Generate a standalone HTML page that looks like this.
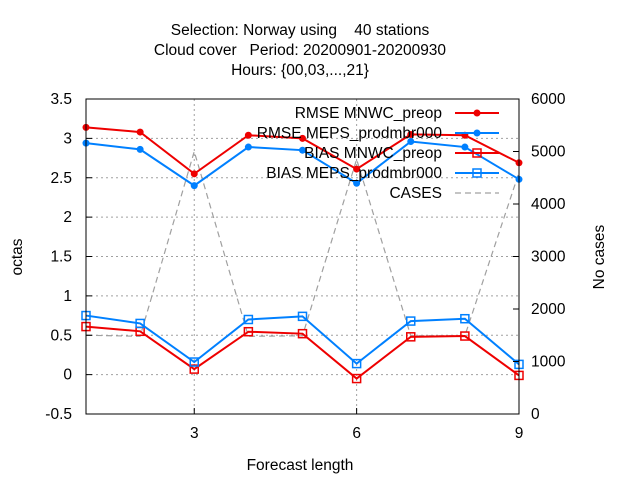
<!DOCTYPE html>
<html><head><meta charset="utf-8"><style>
body{margin:0;background:#fff}
svg text{font-family:"Liberation Sans",sans-serif;font-size:15.5px;fill:#000}
</style></head><body>
<svg id="chart" width="640" height="480" xmlns="http://www.w3.org/2000/svg">
<rect width="640" height="480" fill="#fff"/>
<g id="grid"></g><g id="series"></g><g id="axes"></g>
<text x="300" y="35" text-anchor="middle" xml:space="preserve">Selection: Norway using    40 stations</text>
<text x="300" y="55" text-anchor="middle" xml:space="preserve">Cloud cover   Period: 20200901-20200930</text>
<text x="300" y="75" text-anchor="middle">Hours: {00,03,...,21}</text>
<text x="300" y="470" text-anchor="middle">Forecast length</text>
<text transform="translate(22,257) rotate(-90)" text-anchor="middle">octas</text>
<text transform="translate(604,257) rotate(-90)" text-anchor="middle">No cases</text>
<g id="legend"></g>
</svg>
<script>
const leads=[1,2,3,4,5,6,7,8,9];
const rmseMnwc=[3.14,3.08,2.55,3.04,3.00,2.61,3.05,3.04,2.69];
const rmseMeps=[2.94,2.86,2.40,2.89,2.85,2.43,2.96,2.89,2.48];
const biasMnwc=[0.61,0.55,0.07,0.545,0.52,-0.05,0.48,0.49,-0.01];
const biasMeps=[0.75,0.65,0.16,0.70,0.74,0.14,0.68,0.71,0.13];
const cases=[1500,1480,5000,1480,1490,4850,1490,1490,4600];
const yTicks=[-0.5,0,0.5,1,1.5,2,2.5,3,3.5];
const y2Ticks=[0,1000,2000,3000,4000,5000,6000];
const xTicks=[3,6,9];
const L=86,R=519,T=99,B=414,NS="http://www.w3.org/2000/svg";
const xs=v=>L+(v-1)/8*(R-L);
const ys=v=>B-(v+0.5)/4*(B-T);
const y2s=v=>B-v/6000*(B-T);
function mk(tag,attrs,parent){const e=document.createElementNS(NS,tag);for(const k in attrs)e.setAttribute(k,attrs[k]);document.getElementById(parent).appendChild(e);return e;}
yTicks.forEach(t=>{const y=ys(t);
 if(t>-0.5&&t<3.5){const g=mk('line',{x1:L,x2:R,y1:y,y2:y,stroke:'#a0a0a0','stroke-dasharray':'2,3'},'grid');}
 mk('line',{x1:L,x2:L+6,y1:y,y2:y,stroke:'#000'},'axes');
 const tx=mk('text',{x:L-14,y:y+5,'text-anchor':'end'},'axes');tx.textContent=t;
 
 });
y2Ticks.forEach(t=>{const y=y2s(t);
 mk('line',{x1:R-6,x2:R,y1:y,y2:y,stroke:'#000'},'axes');
 const tx=mk('text',{x:R+12,y:y+5},'axes');tx.textContent=t;
 
 });
xTicks.forEach(t=>{const x=xs(t);
 if(t<9){const g=mk('line',{x1:x,x2:x,y1:T,y2:B,stroke:'#a0a0a0','stroke-dasharray':'2,3'},'grid');}
 mk('line',{x1:x,x2:x,y1:B,y2:B-6,stroke:'#000'},'axes');
 const tx=mk('text',{x:x,y:B+24,'text-anchor':'middle'},'axes');tx.textContent=t;
 
 });
const frame=mk('rect',{x:L,y:T,width:R-L,height:B-T,fill:'none',stroke:'#000'},'axes');


function series(vals,scale,color,marker,dash,name){
 const pts=vals.map((v,i)=>xs(leads[i])+','+scale(v)).join(' ');
 const p=mk('polyline',{points:pts,fill:'none',stroke:color,'stroke-width':dash?1.2:2,'stroke-dasharray':dash?'6,4':'none'},'series');
 
 
 vals.forEach((v,i)=>{const x=xs(leads[i]),y=scale(v);let m;
  if(marker==='dot')m=mk('circle',{cx:x,cy:y,r:3.5,fill:color},'series');
  else if(marker==='sq')m=mk('rect',{x:x-4,y:y-4,width:8,height:8,fill:'none',stroke:color,'stroke-width':1.5},'series');
  if(m){
  }});
}
series(cases,y2s,'#a0a0a0',null,true,'cases');
series(rmseMnwc,ys,'#ee0000','dot',false,'rmse-mnwc');
series(rmseMeps,ys,'#0080ff','dot',false,'rmse-meps');
series(biasMnwc,ys,'#ee0000','sq',false,'bias-mnwc');
series(biasMeps,ys,'#0080ff','sq',false,'bias-meps');
const leg=[['RMSE MNWC_preop','#ee0000','dot'],['RMSE MEPS_prodmbr000','#0080ff','dot'],['BIAS MNWC_preop','#ee0000','sq'],['BIAS MEPS_prodmbr000','#0080ff','sq'],['CASES','#a0a0a0','dash']];
leg.forEach((l,i)=>{const y=113+i*20;
 const t=mk('text',{x:442,y:y+5,'text-anchor':'end'},'legend');t.textContent=l[0];
 
 
 const ln=mk('line',{x1:455,x2:499,y1:y,y2:y,stroke:l[1],'stroke-width':l[2]==='dash'?1.2:2,'stroke-dasharray':l[2]==='dash'?'6,4':'none'},'legend');
 
 
 if(l[2]==='dot')mk('circle',{cx:477,cy:y,r:3.5,fill:l[1]},'legend');
 if(l[2]==='sq')mk('rect',{x:473,y:y-4,width:8,height:8,fill:'none',stroke:l[1],'stroke-width':1.5},'legend');
});
</script>
</body></html>
